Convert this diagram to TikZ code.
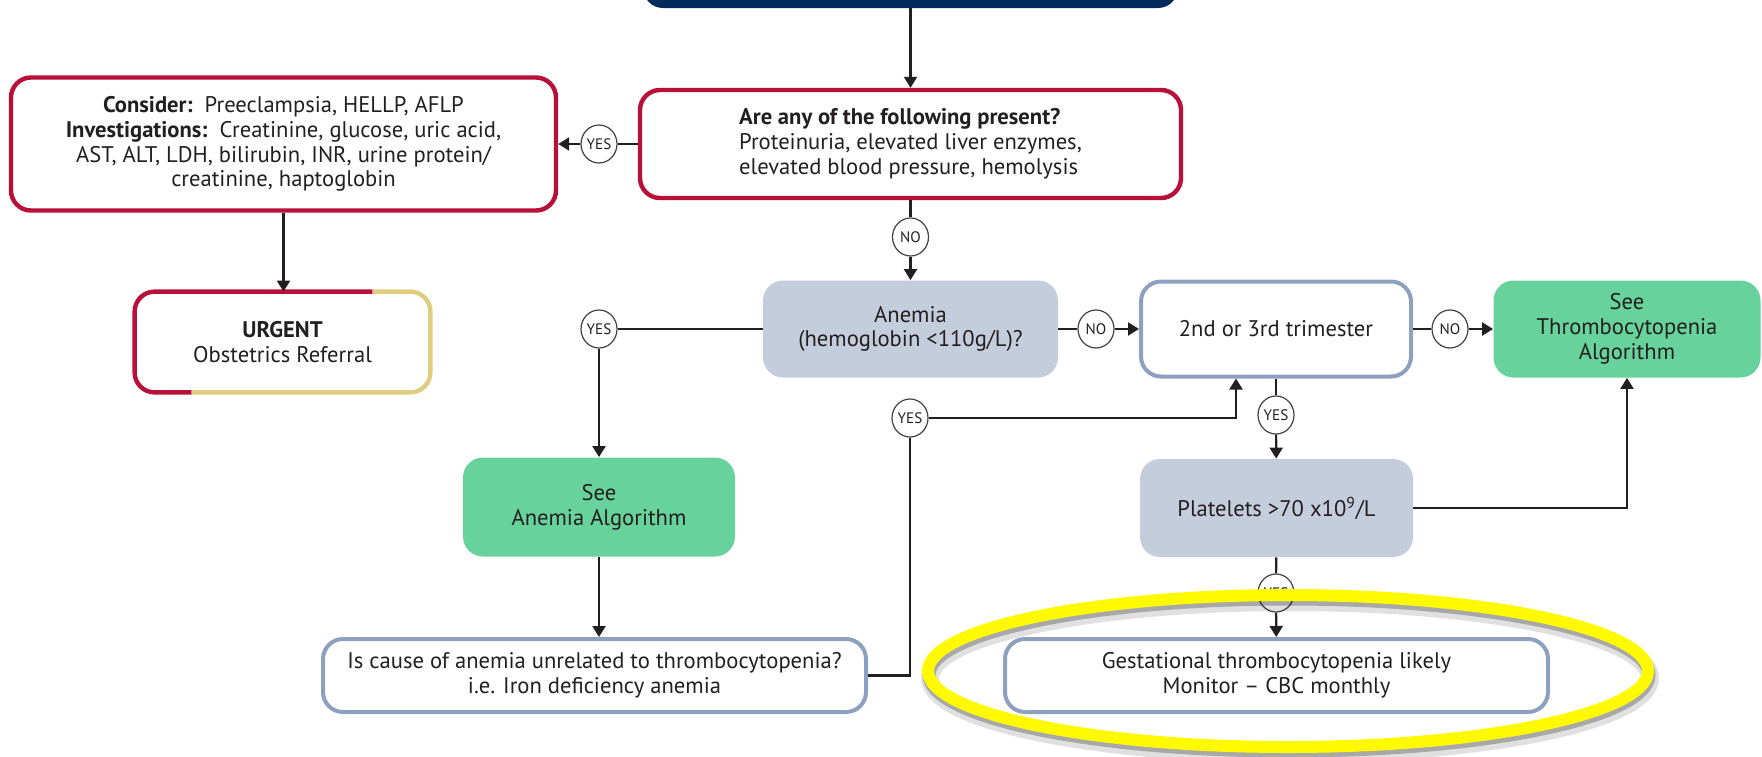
\documentclass[tikz,border=0pt]{standalone}
\usepackage{fontspec}
\setmainfont{PT Sans}
\usetikzlibrary{arrows.meta,shapes.geometric,calc}

\definecolor{navy}{RGB}{0,42,92}
\definecolor{crimson}{RGB}{184,16,56}
\definecolor{sand}{RGB}{224,206,128}
\definecolor{slate}{RGB}{142,160,192}
\definecolor{mist}{RGB}{196,205,220}
\definecolor{mint}{RGB}{103,210,155}
\definecolor{ink}{RGB}{35,31,32}
\definecolor{hilite}{RGB}{255,250,0}

\begin{document}
\begin{tikzpicture}[x=0.5pt,y=-0.5pt,
  every node/.style={text=ink},
  card/.style={rounded corners=10pt, align=center, inner sep=4pt,
    font=\fontsize{11.3}{12.4}\selectfont},
  redcard/.style={card, draw=crimson, line width=2.2pt, fill=white},
  bluecard/.style={card, draw=slate, line width=2pt, fill=white},
  greycard/.style={card, fill=mist},
  greencard/.style={card, fill=mint},
  tag/.style={ellipse, draw=ink!85, line width=0.6pt, fill=white,
    minimum width=18pt, minimum height=19pt, inner sep=0pt,
    font=\fontsize{7.6}{8}\selectfont},
  link/.style={draw=ink, line width=1.1pt},
  flow/.style={link, -{Triangle[length=5.5pt,width=6.5pt]}},
]
\useasboundingbox (0,0) rectangle (1762,756);
\clip (0,0) rectangle (1762,756);

% boxes
\node[card, fill=navy, minimum width=267.5pt, minimum height=40pt] (head) at (910.5,-32) {};
\node[redcard, minimum width=270.5pt, minimum height=54pt, align=left] (q) at (910.5,144)
  {\textbf{Are any of the following present?}\\Proteinuria, elevated liver enzymes,\\elevated blood pressure, hemolysis};
\node[redcard, minimum width=272.5pt, minimum height=66.5pt] (consider) at (283.5,144)
  {\textbf{Consider:}\ \ Preeclampsia, HELLP, AFLP\\\textbf{Investigations:}\ \ Creatinine, glucose, uric acid,\\AST, ALT, LDH, bilirubin, INR, urine protein/\\creatinine, haptoglobin};
\node[card, fill=white, minimum width=147.5pt, minimum height=50pt] (urgent) at (282.5,342)
  {\textbf{URGENT}\\Obstetrics Referral};
\node[greycard, minimum width=147.5pt, minimum height=48.5pt] (anemia) at (910.5,329)
  {Anemia\\(hemoglobin <110g/L)?};
\node[bluecard, minimum width=135pt, minimum height=47.5pt] (trim) at (1276,329)
  {2nd or 3rd trimester};
\node[greencard, minimum width=133.5pt, minimum height=48.5pt] (thrombo) at (1627,329)
  {See\\Thrombocytopenia\\Algorithm};
\node[greencard, minimum width=136pt, minimum height=49.5pt] (anemalg) at (599,507)
  {See\\Anemia Algorithm};
\node[bluecard, minimum width=271.5pt, minimum height=36.5pt] (iscause) at (594.5,675.5)
  {Is cause of anemia unrelated to thrombocytopenia?\\i.e. Iron deficiency anemia};
\node[greycard, minimum width=136.5pt, minimum height=49pt] (plate) at (1276.5,508)
  {Platelets >70 x10\textsuperscript{9}/L};
\node[bluecard, minimum width=271.5pt, minimum height=36.5pt] (gest) at (1276.5,675.5)
  {Gestational thrombocytopenia likely\\Monitor – CBC monthly};

% two-tone outline of the referral box
\draw[crimson, line width=2.2pt, rounded corners=10pt]
  ([xshift=28.5pt]urgent.south west) -- (urgent.south west) -- (urgent.north west) -- ([xshift=119pt]urgent.north west);
\draw[sand, line width=2.2pt, rounded corners=10pt]
  ([xshift=119pt]urgent.north west) -- (urgent.north east) -- (urgent.south east) -- ([xshift=28.5pt]urgent.south west);

% decision tags
\node[tag] (yes1) at (599,144) {YES};
\node[tag] (no1) at (910.5,237) {NO};
\node[tag] (no2) at (1096,329) {NO};
\node[tag] (no3) at (1450,329) {NO};
\node[tag] (yes2) at (599,329) {YES};
\node[tag] (yes3) at (910,418) {YES};
\node[tag] (yes4) at (1276,415) {YES};
\node[tag] (yes5) at (1276,593) {YES};

% connectors
\draw[flow] (head.south) -- (q.north);
\draw[link] (q.west) -- (yes1);
\draw[flow] (yes1) -- (consider.east);
\draw[flow] (consider.south) -- (consider.south |- urgent.north);
\draw[link] (q) -- (no1);
\draw[flow] (no1) -- (anemia);
\draw[link] (anemia) -- (no2);
\draw[flow] (no2) -- (trim);
\draw[link] (trim) -- (no3);
\draw[flow] (no3) -- (thrombo);
\draw[link] (anemia) -- (yes2);
\draw[flow] (yes2) -- (anemalg);
\draw[flow] (anemalg.south) -- (anemalg.south |- iscause.north);
\draw[link] (iscause.east) -| (yes3);
\draw[flow] (yes3) -| ([xshift=-20pt]trim.south);
\draw[link] (trim.south) -- (yes4);
\draw[flow] (yes4) -- (plate);
\draw[flow] (plate.east) -| (thrombo.south);
\draw[link] (plate) -- (yes5);
\draw[flow] (yes5) -- (gest);

% highlight ring with a soft shadow
\draw[black, opacity=0.12, line width=9pt] (1290,678) ellipse [x radius=180pt, y radius=38pt];
\draw[black, opacity=0.25, line width=6.5pt] (1289,675) ellipse [x radius=180pt, y radius=38pt];
\node[ellipse, draw=hilite, line width=6pt, minimum width=360pt, minimum height=76pt, inner sep=0pt] (ring) at (1288,671) {};
\end{tikzpicture}
\end{document}
